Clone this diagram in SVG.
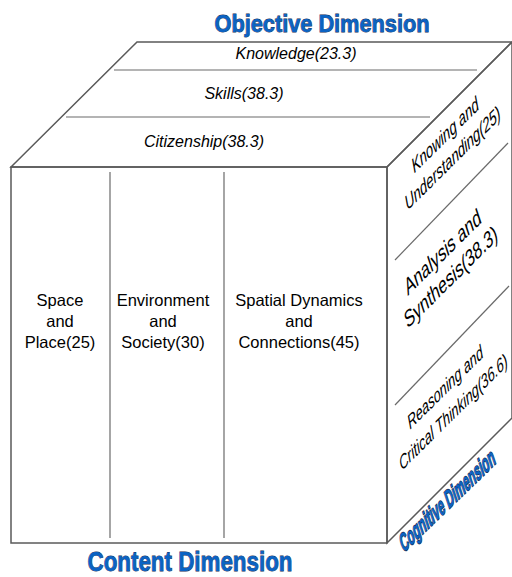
<svg xmlns="http://www.w3.org/2000/svg" width="512" height="577" viewBox="0 0 512 577">
<style>
.edge{fill:none;stroke:#5a5a5a;stroke-width:1.5}
.div{fill:none;stroke:#6a6a6a;stroke-width:1.2}
.lbl{font-family:"Liberation Sans",Arial,sans-serif;font-size:16.5px;fill:#000;text-anchor:middle}
.it{font-family:"Liberation Sans",Arial,sans-serif;font-style:italic;font-size:16px;fill:#000;text-anchor:middle}
.side{font-family:"Liberation Sans",Arial,sans-serif;fill:#000;text-anchor:middle}
.title{font-family:"Liberation Sans",Arial,sans-serif;font-weight:bold;fill:#0b63c3;stroke:#1a2c50;stroke-width:0.8;paint-order:stroke;text-anchor:middle}
</style>
<rect width="512" height="577" fill="#fff"/>
<g id="cube">
  <polygon id="top-face" points="11,167 137,42 512,42 387,167" fill="#fff" class="edge"/>
  <polygon id="right-face" points="387,167 512,42 512,418 387,543" fill="#d0d0d0" class="edge"/>
  <rect id="front-face" x="11" y="167" width="376" height="376" fill="#fff" class="edge"/>
</g>
<g id="dividers">
  <line class="div" x1="114" y1="70" x2="477" y2="70"/>
  <line class="div" x1="66" y1="117" x2="430" y2="117"/>
  <line class="div" x1="110" y1="172" x2="110" y2="538"/>
  <line class="div" x1="224" y1="172" x2="224" y2="538"/>
  <line class="div" x1="395" y1="260" x2="508" y2="143"/>
  <line class="div" x1="395" y1="405" x2="509" y2="286"/>
</g>
<g id="objective">
  <text id="knowledge" class="it" x="296" y="59">Knowledge(23.3)</text>
  <text id="skills" class="it" x="244" y="99">Skills(38.3)</text>
  <text id="citizenship" class="it" x="204" y="147">Citizenship(38.3)</text>
</g>
<g id="content">
  <text id="space-place" class="lbl" y="306"><tspan x="60">Space</tspan><tspan x="60" dy="21">and</tspan><tspan x="60" dy="21">Place(25)</tspan></text>
  <text id="env-society" class="lbl" y="306"><tspan x="163">Environment</tspan><tspan x="163" dy="21">and</tspan><tspan x="163" dy="21">Society(30)</tspan></text>
  <text id="spatial" class="lbl" y="306"><tspan x="299">Spatial Dynamics</tspan><tspan x="299" dy="21">and</tspan><tspan x="299" dy="21">Connections(45)</tspan></text>
</g>
<g id="cognitive">
  <text id="knowing" class="side" font-style="italic" font-size="16" transform="matrix(0.71,-0.704,0.37,1.13,447,141)"><tspan x="0" y="0">Knowing and</tspan><tspan x="0" dy="20.5">Understanding(25)</tspan></text>
  <text id="analysis" class="side" font-size="18.5" transform="matrix(0.71,-0.704,0.37,1.13,445,259)"><tspan x="0" y="0">Analysis and</tspan><tspan x="0" dy="22">Synthesis(38.3)</tspan></text>
  <text id="reasoning" class="side" font-style="italic" font-size="15.5" transform="matrix(0.71,-0.704,0.37,1.13,447,393)"><tspan x="0" y="0">Reasoning and</tspan><tspan x="0" dy="22">Critical Thinking(36.6)</tspan></text>
</g>
<g id="titles">
  <text id="objective-title" class="title" x="322" y="32" font-size="23" textLength="215" lengthAdjust="spacingAndGlyphs">Objective Dimension</text>
  <text id="content-title" class="title" x="190" y="571" font-size="27" textLength="205" lengthAdjust="spacingAndGlyphs">Content Dimension</text>
  <text id="cognitive-title" class="title" font-size="13" stroke-width="0.5" transform="matrix(0.719,-0.695,0.6,1.8,450,508)" x="0" y="0">Cognitive Dimension</text>
</g>
</svg>
